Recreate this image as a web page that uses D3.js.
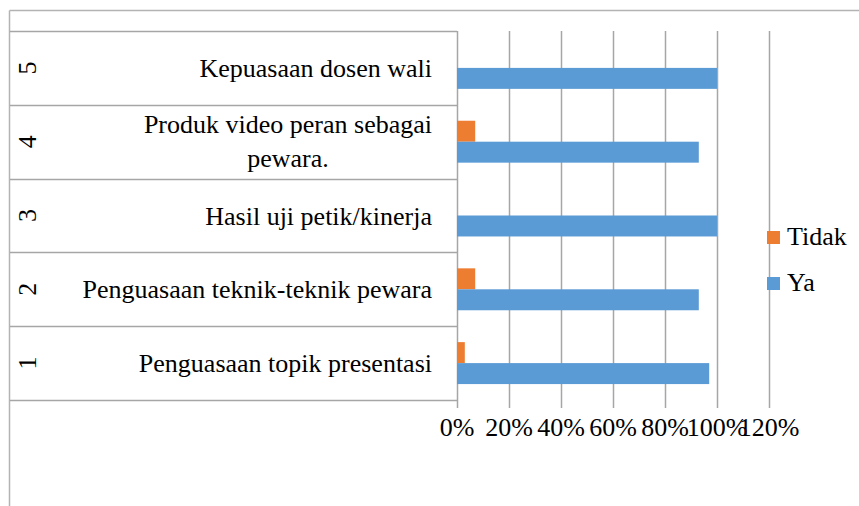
<!DOCTYPE html>
<html>
<head>
<meta charset="utf-8">
<script src="https://cdn.jsdelivr.net/npm/d3@7/dist/d3.min.js"></script>
<style>
  html, body { margin: 0; padding: 0; background: #fff; }
  svg { display: block; }
  text { fill: #000; }
</style>
</head>
<body>
<svg id="chart" width="859" height="506"></svg>
<script>
// ---- data ----
const categories = ["1", "2", "3", "4", "5"];
const labels = [
  "Penguasaan topik presentasi",
  "Penguasaan teknik-teknik pewara",
  "Hasil uji petik/kinerja",
  "Produk video peran sebagai\npewara.",
  "Kepuasaan dosen wali"
];
const seriesNames = ["Tidak", "Ya"];
const tidak = [0.03, 0.07, 0.00, 0.07, 0.00];
const ya = [0.97, 0.93, 1.00, 0.93, 1.00];
const tickValues = [0, 0.2, 0.4, 0.6, 0.8, 1.0, 1.2];
const colors = { Tidak: "#ED7D31", Ya: "#5B9BD5" };

// ---- layout ----
const W = 859, H = 506;
const plot = { left: 457, right: 769, top: 31, bottom: 400 };
const tableLeft = 10;
const fontFamily = "'Liberation Serif', 'DejaVu Serif', 'Noto Serif', 'Times New Roman', serif";
const fontSize = 26;
const gridColor = "#a6a6a6";

const svg = d3.select("#chart");

const x = d3.scaleLinear().domain([0, 1.2]).range([plot.left, plot.right]);
const y = d3.scaleBand().domain(categories.slice().reverse()).range([plot.top, plot.bottom]).padding(0);
const ySub = d3.scaleBand().domain(seriesNames).range([0, y.bandwidth()]).paddingInner(0).paddingOuter(0.76);

// outer chart border
svg.append("line").attr("x1", 9.5).attr("x2", W).attr("y1", 10.5).attr("y2", 10.5)
  .attr("stroke", "#b3b3b3").attr("stroke-width", 1.5);
svg.append("line").attr("x1", 9.5).attr("x2", 9.5).attr("y1", 10.5).attr("y2", H)
  .attr("stroke", "#b3b3b3").attr("stroke-width", 1.5);

// gridlines (with tick extension below)
svg.append("g").selectAll("line").data(tickValues).join("line")
  .attr("x1", d => Math.round(x(d)) + 0.5).attr("x2", d => Math.round(x(d)) + 0.5)
  .attr("y1", plot.top).attr("y2", plot.bottom + 8)
  .attr("stroke", gridColor).attr("stroke-width", 1.5);

// table lines: row boundaries
const boundaries = categories.map(c => y(c)).concat([plot.bottom]);
svg.append("g").selectAll("line").data(boundaries).join("line")
  .attr("x1", tableLeft).attr("x2", plot.left)
  .attr("y1", d => Math.round(d) + 0.5).attr("y2", d => Math.round(d) + 0.5)
  .attr("stroke", gridColor).attr("stroke-width", 1.5);

// bars
const rows = categories.map((c, i) => ({ cat: c, Tidak: tidak[i], Ya: ya[i] }));
const gBars = svg.append("g");
rows.forEach(r => {
  seriesNames.forEach(s => {
    gBars.append("rect")
      .attr("x", x(0))
      .attr("y", y(r.cat) + ySub(s))
      .attr("width", x(r[s]) - x(0))
      .attr("height", ySub.bandwidth())
      .attr("fill", colors[s]);
  });
});

// row numbers (rotated)
svg.append("g").selectAll("text").data(categories).join("text")
  .attr("transform", d => `translate(27,${y(d) + y.bandwidth() / 2}) rotate(-90)`)
  .attr("text-anchor", "middle")
  .attr("dominant-baseline", "central")
  .style("font-family", fontFamily)
  .style("font-size", fontSize + "px")
  .text(d => d);

// row labels
const labelRight = 432;
const lineH = 34;
categories.forEach((c, i) => {
  const lines = labels[i].split("\n");
  const cy = y(c) + y.bandwidth() / 2;
  const t = svg.append("text").style("font-family", fontFamily).style("font-size", fontSize + "px").attr("text-anchor", "middle");
  const tspans = lines.map(l => t.append("tspan").text(l));
  const widths = tspans.map(ts => ts.node().getComputedTextLength());
  const maxW = d3.max(widths);
  const firstBase = cy + 9 - (lines.length - 1) * 18;
  tspans.forEach((ts, k) => {
    ts.attr("x", labelRight - maxW / 2).attr("y", firstBase + k * lineH);
  });
});

// x tick labels
svg.append("g").selectAll("text").data(tickValues).join("text")
  .attr("x", d => x(d))
  .attr("y", 436)
  .attr("text-anchor", "middle")
  .style("font-family", fontFamily)
  .style("font-size", fontSize + "px")
  .text(d3.format(".0%"));

// legend
const legend = svg.append("g");
const legendItems = ["Tidak", "Ya"];
legendItems.forEach((s, i) => {
  const ly = 238 + i * 46;
  legend.append("rect").attr("x", 767).attr("y", ly - 7).attr("width", 13).attr("height", 13).attr("fill", colors[s]);
  legend.append("text").attr("x", 787).attr("y", ly + 7).style("font-family", fontFamily).style("font-size", fontSize + "px").text(s);
});
</script>
</body>
</html>
